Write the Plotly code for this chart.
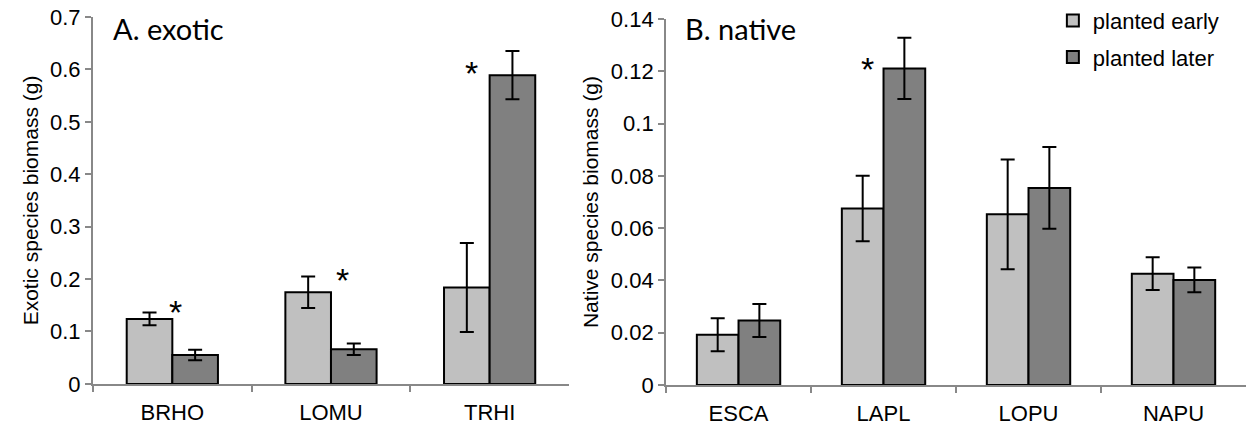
import plotly.graph_objects as go

# ---- data ----
exotic_species = ["BRHO", "LOMU", "TRHI"]
exotic_early = [0.124, 0.175, 0.184]
exotic_early_err = [0.012, 0.030, 0.085]
exotic_later = [0.055, 0.066, 0.589]
exotic_later_err = [0.010, 0.011, 0.046]

native_species = ["ESCA", "LAPL", "LOPU", "NAPU"]
native_early = [0.0192, 0.0675, 0.0653, 0.0426]
native_early_err = [0.0063, 0.0125, 0.0210, 0.0063]
native_later = [0.0247, 0.1211, 0.0754, 0.0402]
native_later_err = [0.0063, 0.0117, 0.0156, 0.0047]

# asterisk positions (category index, value)
exotic_star_x = [0.023, 1.073, 1.886]
exotic_star_y = [0.151, 0.211, 0.607]
native_star_x = [0.886]
native_star_y = [0.1236]

light = "#c0c0c0"
dark = "#808080"
axis_col = "#888888"
font_fam = "Liberation Sans, Arial, sans-serif"

fig = go.Figure()

def add_bar(x, y, err, color, name, xa, ya, show):
    fig.add_trace(go.Bar(
        x=x, y=y, name=name, xaxis=xa, yaxis=ya,
        marker=dict(color=color, line=dict(color="black", width=2)),
        error_y=dict(type="data", array=err, color="black", thickness=2, width=7),
        showlegend=show, legendgroup=name,
    ))

add_bar(exotic_species, exotic_early, exotic_early_err, light, "planted early", "x", "y", True)
add_bar(exotic_species, exotic_later, exotic_later_err, dark, "planted later", "x", "y", True)
add_bar(native_species, native_early, native_early_err, light, "planted early", "x2", "y2", False)
add_bar(native_species, native_later, native_later_err, dark, "planted later", "x2", "y2", False)

annotations = []
for sx, sy in zip(exotic_star_x, exotic_star_y):
    annotations.append(dict(x=sx, y=sy, xref="x", yref="y", text="*", showarrow=False,
                            font=dict(size=34, color="black", family=font_fam), yshift=-7))
for sx, sy in zip(native_star_x, native_star_y):
    annotations.append(dict(x=sx, y=sy, xref="x2", yref="y2", text="*", showarrow=False,
                            font=dict(size=34, color="black", family=font_fam), yshift=-7))

annotations.append(dict(x=0.0155, y=1.022, xref="paper", yref="paper", xanchor="left", yanchor="top",
                        text="A. exotic", showarrow=False,
                        font=dict(size=29, color="black", family="Lato, Open Sans, sans-serif")))
annotations.append(dict(x=0.5115, y=1.022, xref="paper", yref="paper", xanchor="left", yanchor="top",
                        text="B. native", showarrow=False,
                        font=dict(size=29, color="black", family="Lato, Open Sans, sans-serif")))

xax = dict(type="category", showline=True, linecolor=axis_col, linewidth=2,
           ticks="outside", tickson="boundaries", tickcolor=axis_col, ticklen=6, tickwidth=2,
           showgrid=False, zeroline=False, ticklabelstandoff=8,
           tickfont=dict(size=22, color="black", family=font_fam))
yax = dict(showline=True, linecolor=axis_col, linewidth=2, ticks="outside",
           tickcolor=axis_col, ticklen=6, tickwidth=2, showgrid=False, zeroline=False,
           tickfont=dict(size=22, color="black", family=font_fam))

fig.update_layout(
    width=1254, height=433,
    margin=dict(l=93, r=8, t=17, b=48, autoexpand=False),
    paper_bgcolor="white", plot_bgcolor="white",
    barmode="group", bargap=0.425, bargroupgap=0,
    xaxis=dict(xax, domain=[0, 0.4128], anchor="y", range=[-0.5, 2.5]),
    yaxis=dict(yax, domain=[0.003, 1], anchor="x", range=[0, 0.7],
               tickvals=[0, 0.1, 0.2, 0.3, 0.4, 0.5, 0.6, 0.7],
               ticktext=["0", "0.1", "0.2", "0.3", "0.4", "0.5", "0.6", "0.7"],
               title=dict(text="Exotic species biomass (g)", standoff=6,
                          font=dict(size=21, color="black", family=font_fam))),
    xaxis2=dict(xax, domain=[0.497, 1], anchor="y2", range=[-0.5, 3.5]),
    yaxis2=dict(yax, domain=[0.0, 0.9946], anchor="x2", range=[0, 0.14],
                tickvals=[0, 0.02, 0.04, 0.06, 0.08, 0.1, 0.12, 0.14],
                ticktext=["0", "0.02", "0.04", "0.06", "0.08", "0.1", "0.12", "0.14"],
                title=dict(text="Native species biomass (g)", standoff=6,
                           font=dict(size=21, color="black", family=font_fam))),
    legend=dict(x=0.8325, y=1.047, xanchor="left", yanchor="top",
                font=dict(size=22, color="black", family=font_fam),
                bgcolor="rgba(0,0,0,0)", tracegroupgap=5, itemwidth=30),
    annotations=annotations,
)

fig.write_html("out.html")
